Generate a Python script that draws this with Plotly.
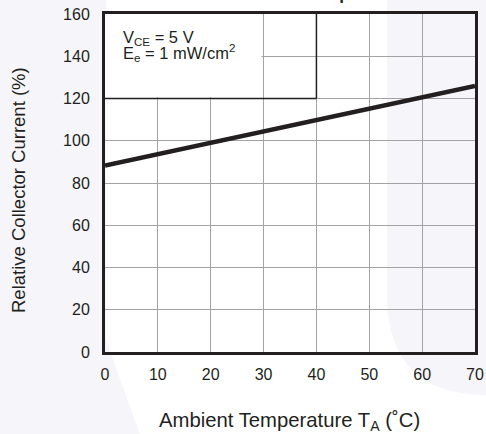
import plotly.graph_objects as go

# Data
temperature = [0, 10, 20, 30, 40, 50, 60, 70]
rel_current = [88.3, 93.7, 99.0, 104.4, 109.8, 115.1, 120.5, 125.9]
x_ticks = [0, 10, 20, 30, 40, 50, 60, 70]
y_ticks = [0, 20, 40, 60, 80, 100, 120, 140, 160]

W, H = 486, 434
L, R, T, B = 105, 475, 14, 352

def px(xp):
    return (xp - L) / (R - L)

def py(yp):
    return (B - yp) / (B - T)

FONT = "Liberation Sans, Arial, sans-serif"
DARK = "#231f20"
TINT = "#f6f5f9"

fig = go.Figure()
fig.add_trace(go.Scatter(x=temperature, y=rel_current, mode="lines",
                         line=dict(color=DARK, width=4.5), cliponaxis=False,
                         hoverinfo="skip", showlegend=False))

shapes = [
    # watermark tints
    dict(type="path", xref="paper", yref="paper", layer="below",
         path=(f"M {px(387)},{py(-5)} L {px(387)},{py(295)} "
               f"Q {px(387)},{py(395)} {px(487)},{py(395)} "
               f"L {px(495)},{py(395)} L {px(495)},{py(-5)} Z"),
         fillcolor=TINT, line=dict(width=0)),
    dict(type="path", xref="paper", yref="paper", layer="below",
         path=(f"M {px(-5)},{py(-5)} L {px(106)},{py(-5)} L {px(106)},{py(340)} "
               f"L {px(142)},{py(440)} L {px(-5)},{py(440)} Z"),
         fillcolor=TINT, line=dict(width=0)),
    # inset box: white cover over gridlines
    dict(type="rect", xref="x", yref="y", layer="between",
         x0=0, x1=29.6, y0=120.6, y1=160, fillcolor="white", line=dict(width=0)),
    dict(type="line", xref="x", yref="y", layer="between",
         x0=0, x1=40, y0=120, y1=120, line=dict(color=DARK, width=1.5)),
    dict(type="line", xref="x", yref="y", layer="between",
         x0=40, x1=40, y0=120, y1=160, line=dict(color=DARK, width=1.5)),
]

annotations = [
    dict(text="V<sub>CE</sub> = 5 V", xref="paper", yref="paper",
         x=px(121), y=py(26), xanchor="left", yanchor="top", showarrow=False,
         font=dict(family=FONT, size=16.5, color=DARK)),
    dict(text="E<sub>e</sub> = 1 mW/cm<sup>2</sup>", xref="paper", yref="paper",
         x=px(121), y=py(40), xanchor="left", yanchor="top", showarrow=False,
         font=dict(family=FONT, size=16.5, color=DARK)),
    dict(text="Relative Collector Current (%)", xref="paper", yref="paper",
         x=px(18), y=py(190), xanchor="center", yanchor="middle", textangle=-90,
         showarrow=False, font=dict(family=FONT, size=18.5, color=DARK)),
    dict(text="Ambient Temperature T<sub>A</sub> (˚C)", xref="paper", yref="paper",
         x=px(289), y=py(421), xanchor="center", yanchor="middle",
         showarrow=False, font=dict(family=FONT, size=20.3, color=DARK)),
    dict(text="<b>vs. Ambient Temperature</b>", xref="paper", yref="paper",
         x=px(306), y=py(5.5), xanchor="center", yanchor="bottom",
         showarrow=False, font=dict(family=FONT, size=17, color=DARK)),
]

axis_common = dict(showline=True, linecolor=DARK, linewidth=3, mirror=True,
                   showgrid=True, gridcolor="#a3a3a3", gridwidth=1,
                   zeroline=False, ticks="outside", tickcolor="rgba(0,0,0,0)",
                   tickfont=dict(family=FONT, size=16, color=DARK))

fig.update_layout(
    width=W, height=H,
    margin=dict(l=L, r=W - R, t=T, b=H - B, autoexpand=False),
    paper_bgcolor="white", plot_bgcolor="rgba(0,0,0,0)",
    showlegend=False,
    xaxis=dict(range=[0, 70], tickvals=x_ticks, ticklen=6, **axis_common),
    yaxis=dict(range=[0, 160], tickvals=y_ticks, ticklen=9, **axis_common),
    shapes=shapes, annotations=annotations,
)

fig.write_html("out.html")
